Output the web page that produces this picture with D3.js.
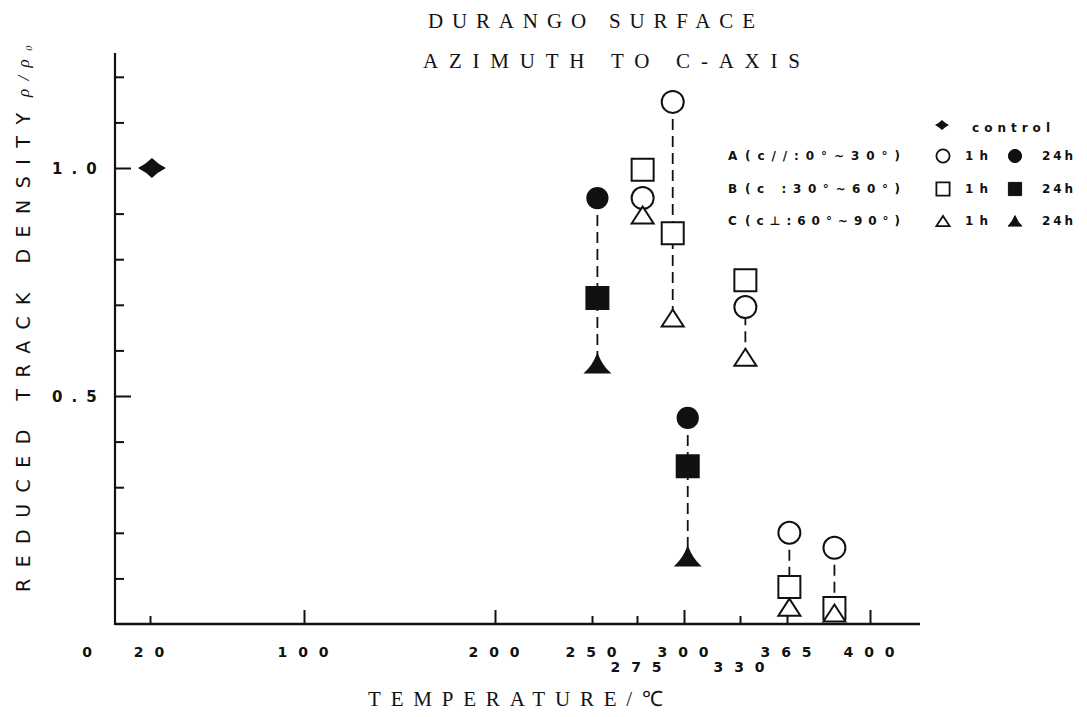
<!DOCTYPE html>
<html>
<head>
<meta charset="utf-8">
<script src="https://cdn.jsdelivr.net/npm/d3@7"></script>
<style>
  body { margin: 0; background: #fff; }
  text { fill: #111; }
</style>
</head>
<body>
<div id="chart"></div>
<script>
// values (reduced track density rho/rho0)
const temps  = [253, 278, 294, 302, 334, 366, 385];
const anneal = ["24h", "1h", "1h", "24h", "1h", "1h", "1h"];
const densA  = [0.934, 0.934, 1.145, 0.452, 0.695, 0.200, 0.167];
const densB  = [0.715, 0.996, 0.857, 0.346, 0.754, 0.081, 0.035];
const densC  = [0.570, 0.897, 0.671, 0.147, 0.585, 0.037, 0.024];
const controlT = [21];
const controlV = [1.0];

const xTickVals = [0, 20, 100, 200, 250, 275, 300, 330, 365, 400];
const xMajor    = [100, 200, 300, 400];
const xMinor    = [20, 250, 275, 330, 365];
const xLowRow   = [275, 330];
const yTickVals = [0.1, 0.2, 0.3, 0.4, 0.5, 0.6, 0.7, 0.8, 0.9, 1.0, 1.1, 1.2];
const yLabelled = [0.5, 1.0];

const legendKeys  = ["A", "B", "C"];
const legendText  = ["(c//:0°~30°)", "(c   :30°~60°)", "(c⊥:60°~90°)"];
const legendShape = ["circle", "square", "triangle"];

// layout (the temperature axis of the original is hand drawn, so it is piecewise)
const W = 1087, H = 717;
const xTickPx = [88, 150, 304, 495, 592, 637, 684, 740, 787, 870];
const axisX = 115, axisTop = 53, axisY = 624, axisRight = 920;

const svg = d3.select("#chart").append("svg")
    .attr("width", W).attr("height", H);

const x = d3.scaleLinear().domain(xTickVals).range(xTickPx);
const y = d3.scaleLinear().domain([0, 1]).range([axisY, 168]);

function shapePath(shape, s) {
    if (shape === "circle") return d3.arc()({innerRadius: 0, outerRadius: 11 * s, startAngle: 0, endAngle: 2 * Math.PI});
    if (shape === "square") { let h = 11 * s; return `M${-h},${-h}H${h}V${h}H${-h}Z`; }
    if (shape === "triangle") return `M0,${-8.5*s}L${11*s},${8.5*s}L${-11*s},${8.5*s}Z`;
    if (shape === "ftriangle") return `M0,${-9*s}Q${4.3*s},${1.8*s} ${11.5*s},${8.5*s}L${-11.5*s},${8.5*s}Q${-4.3*s},${1.8*s} 0,${-9*s}Z`;
    // control: four pointed diamond with slightly hollow sides
    return `M0,${-10*s}Q${6*s},${-4*s} ${14*s},0Q${6*s},${4*s} 0,${10*s}Q${-6*s},${4*s} ${-14*s},0Q${-6*s},${-4*s} 0,${-10*s}Z`;
}

// axes lines
svg.append("line").attr("x1", axisX).attr("x2", axisX).attr("y1", axisTop).attr("y2", axisY + 1)
    .attr("stroke", "#111").attr("stroke-width", 2.2);
svg.append("line").attr("x1", axisX).attr("x2", axisRight).attr("y1", axisY).attr("y2", axisY)
    .attr("stroke", "#111").attr("stroke-width", 2.4);

// x ticks, pointing up
svg.append("g").attr("transform", `translate(0,${axisY})`)
    .call(d3.axisBottom(x).tickValues(xMajor).tickSize(-14).tickFormat(""))
    .call(g => g.select(".domain").remove())
    .selectAll("line").attr("stroke", "#111").attr("stroke-width", 2);
svg.append("g").attr("transform", `translate(0,${axisY})`)
    .call(d3.axisBottom(x).tickValues(xMinor).tickSize(-8).tickFormat(""))
    .call(g => g.select(".domain").remove())
    .selectAll("line").attr("stroke", "#111").attr("stroke-width", 2);

const xLab = svg.append("g").attr("transform", `translate(0,${axisY})`)
    .call(d3.axisBottom(x).tickValues(xTickVals).tickSize(0).tickPadding(23).tickFormat(d3.format("d")))
    .call(g => g.select(".domain").remove());
xLab.selectAll(".tick text")
    .attr("dy", d => xLowRow.includes(d) ? "1.8em" : "0.71em")
    .attr("dx", 4)
    .style("font-family", "'DejaVu Sans', sans-serif").style("font-weight", "bold")
    .style("font-size", "14px").style("letter-spacing", "11px").attr("fill", "#111");

// y ticks, pointing right
svg.append("g").attr("transform", `translate(${axisX},0)`)
    .call(d3.axisRight(y).tickValues(yTickVals.filter(v => !yLabelled.includes(v))).tickSize(9).tickFormat(""))
    .call(g => g.select(".domain").remove())
    .selectAll("line").attr("stroke", "#111").attr("stroke-width", 2);
svg.append("g").attr("transform", `translate(${axisX},0)`)
    .call(d3.axisRight(y).tickValues(yLabelled).tickSize(16).tickFormat(""))
    .call(g => g.select(".domain").remove())
    .selectAll("line").attr("stroke", "#111").attr("stroke-width", 2);

svg.selectAll(".ylab").data(yLabelled).join("text")
    .attr("x", 52).attr("y", d => y(d) + 6)
    .style("font-family", "'DejaVu Sans', sans-serif").style("font-weight", "bold")
    .style("font-size", "15px").style("letter-spacing", "9px")
    .text(d3.format(".1f"));

// titles
const serif = "'Liberation Serif', 'Times New Roman', serif";
svg.append("text").attr("x", 428).attr("y", 28).attr("textLength", 327).attr("lengthAdjust", "spacing")
    .style("font-family", serif).style("font-size", "21px").text("DURANGO SURFACE");
svg.append("text").attr("x", 423).attr("y", 68).attr("textLength", 377).attr("lengthAdjust", "spacing")
    .style("font-family", serif).style("font-size", "21px").text("AZIMUTH TO C-AXIS");
svg.append("text").attr("x", 368).attr("y", 706).attr("textLength", 295).attr("lengthAdjust", "spacing")
    .style("font-family", serif).style("font-size", "21px").text("TEMPERATURE/℃");

svg.append("text").attr("transform", "translate(30,592) rotate(-90)")
    .attr("textLength", 479).attr("lengthAdjust", "spacing")
    .style("font-family", "'DejaVu Sans', sans-serif").style("font-size", "19px")
    .text("REDUCED TRACK DENSITY");
svg.append("text").attr("transform", "translate(29,97) rotate(-90)")
    .attr("textLength", 52).attr("lengthAdjust", "spacing")
    .style("font-family", serif).style("font-style", "italic").style("font-size", "17px")
    .text("ρ/ρ₀");

// dashed connectors for each temperature step
const cols = temps.map((t, i) => ({t, h: anneal[i], a: densA[i], b: densB[i], c: densC[i]}));
svg.selectAll(".conn").data(cols).join("line")
    .attr("x1", d => x(d.t)).attr("x2", d => x(d.t))
    .attr("y1", d => y(Math.max(d.a, d.b, d.c))).attr("y2", d => y(Math.min(d.a, d.b, d.c)))
    .attr("stroke", "#111").attr("stroke-width", 1.8).attr("stroke-dasharray", "11,6");

const marks = [];
cols.forEach(d => {
    marks.push({t: d.t, v: d.a, shape: "circle", filled: d.h === "24h"});
    marks.push({t: d.t, v: d.b, shape: "square", filled: d.h === "24h"});
    marks.push({t: d.t, v: d.c, shape: d.h === "24h" ? "ftriangle" : "triangle", filled: d.h === "24h"});
});
svg.selectAll(".mark").data(marks).join("path")
    .attr("transform", d => `translate(${x(d.t)},${y(d.v)})`)
    .attr("d", d => shapePath(d.shape, d.filled && d.shape === "circle" ? 0.92 : 1))
    .attr("fill", d => d.filled ? "#111" : "#fff")
    .attr("stroke", "#111").attr("stroke-width", 2);

svg.selectAll(".ctrl").data(controlT).join("path")
    .attr("transform", (d, i) => `translate(${x(d)},${y(controlV[i])})`)
    .attr("d", shapePath("diamond", 1)).attr("fill", "#111");

// legend
const lg = svg.append("g")
    .style("font-family", "'DejaVu Sans', sans-serif").style("font-weight", "bold").style("font-size", "12px");
lg.append("path").attr("transform", "translate(942,125)").attr("d", shapePath("diamond", 0.5)).attr("fill", "#111");
lg.append("text").attr("x", 972).attr("y", 132).attr("textLength", 78).attr("lengthAdjust", "spacing").text("control");

const rowY = [160, 193, 225];
legendKeys.forEach((k, i) => {
    const yy = rowY[i];
    lg.append("text").attr("x", 728).attr("y", yy).text(k);
    lg.append("text").attr("x", 745).attr("y", yy).attr("textLength", 155).attr("lengthAdjust", "spacing").text(legendText[i]);
    const sh = legendShape[i];
    lg.append("path").attr("transform", `translate(943,${yy - 4})`)
        .attr("d", shapePath(sh, 0.6)).attr("fill", "#fff").attr("stroke", "#111").attr("stroke-width", 1.8);
    lg.append("text").attr("x", 965).attr("y", yy).attr("textLength", 23).attr("lengthAdjust", "spacing").text("1h");
    lg.append("path").attr("transform", `translate(1015,${yy - 4})`)
        .attr("d", shapePath(sh === "triangle" ? "ftriangle" : sh, 0.6)).attr("fill", "#111").attr("stroke", "#111").attr("stroke-width", 1);
    lg.append("text").attr("x", 1042).attr("y", yy).attr("textLength", 31).attr("lengthAdjust", "spacing").text("24h");
});
</script>
</body>
</html>
